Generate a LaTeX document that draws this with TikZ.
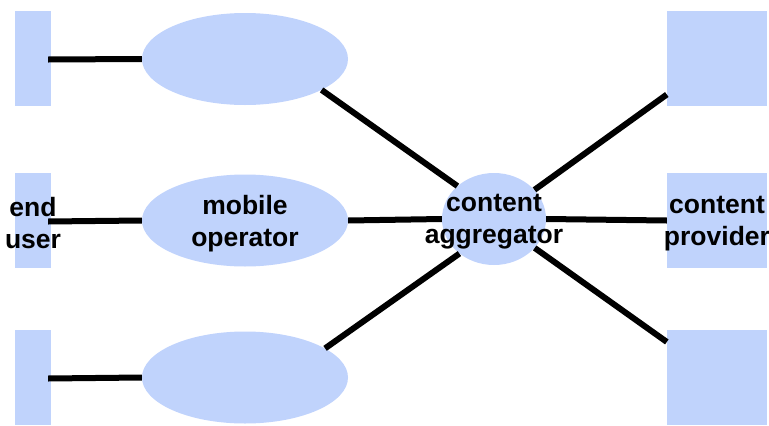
\documentclass[tikz,border=0pt]{standalone}
\usepackage{fontspec}
\setmainfont{Liberation Sans}
\usetikzlibrary{shapes.geometric}
\definecolor{boxblue}{RGB}{192,211,252}
\begin{document}
\begin{tikzpicture}[x=1pt,y=-1pt,
  userbox/.style={fill=boxblue,minimum width=36pt,minimum height=95pt,inner sep=0pt},
  provbox/.style={fill=boxblue,minimum width=100pt,minimum height=95pt,inner sep=0pt},
  opblob/.style={ellipse,fill=boxblue,minimum width=206pt,minimum height=92pt,inner sep=0pt},
  aggblob/.style={ellipse,fill=boxblue,minimum width=104pt,minimum height=92pt,inner sep=0pt},
  lbl/.style={font=\fontsize{26.5}{32}\selectfont\bfseries,align=center,inner sep=0pt,yshift=-3pt},
  link/.style={line width=6pt}]
\useasboundingbox (0,0) rectangle (769,426);

% end users
\node[userbox] (user1) at (33,58.5) {};
\node[userbox] (user2) at (33,220.5) {};
\node[userbox] (user3) at (33,377.5) {};

% mobile operators
\node[opblob] (op1) at (245,59) {};
\node[opblob] (op2) at (245,220.5) {};
\node[opblob] (op3) at (245,377.5) {};

\node[aggblob] (agg) at (494,219) {};

% content providers
\node[provbox] (prov1) at (717,58.5) {};
\node[provbox] (prov2) at (717,220.5) {};
\node[provbox] (prov3) at (717,377.5) {};

\draw[link] ([xshift=-3pt,yshift=-1pt]user1.east) -- (op1.west);
\draw[link] ([xshift=-3pt,yshift=-1pt]user2.east) -- (op2.west);
\draw[link] ([xshift=-3pt,yshift=-1pt]user3.east) -- (op3.west);

\draw[link] (op1.-22) -- (agg.138);
\draw[link] (op2.east) -- (agg.west);
\draw[link] (op3.20) -- (agg.-135);

\draw[link] (agg) -- (prov1);
\draw[link] (agg.east) -- (prov2.west);
\draw[link] (agg) -- (prov3);

\node[lbl] (usertxt) at (user2) {end\\user};
\node[lbl] (optxt) at (op2) {mobile\\operator};
\node[lbl] (aggtxt) at (agg) {content\\aggregator};
\node[lbl] (provtxt) at (prov2) {content\\provider};

\end{tikzpicture}
\end{document}
